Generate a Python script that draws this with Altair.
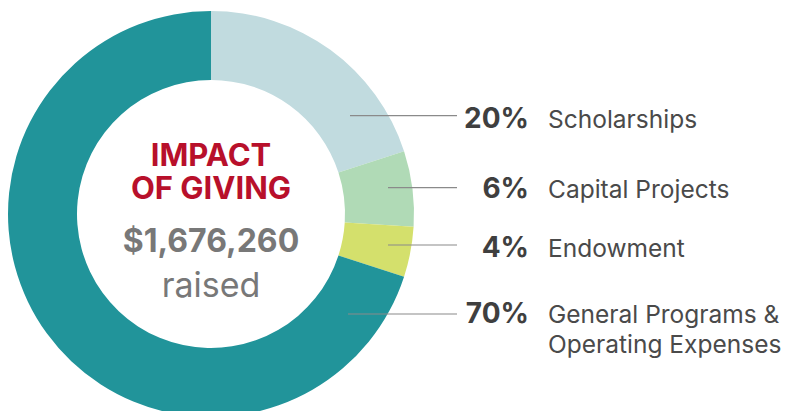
import math
import altair as alt
import pandas as pd

# ---- data ----
categories = ["Scholarships", "Capital Projects", "Endowment", "General Programs & Operating Expenses"]
label_lines = [["Scholarships"], ["Capital Projects"], ["Endowment"], ["General Programs &", "Operating Expenses"]]
percents = [20, 6, 4, 70]
percent_labels = ["20%", "6%", "4%", "70%"]
colors = ["#c1dbdf", "#b0dab6", "#d4e06c", "#21949a"]

title_lines = ["IMPACT", "OF GIVING"]
amount_text = "$1,676,260"
raised_text = "raised"

# ---- layout (pixels) ----
CX, CY = 211, 214
R_OUT, R_IN = 203, 134
line_y = [115.7, 187.7, 245, 314]
line_x1 = [350, 388, 388, 348]
line_x2 = 457
text_base = [127.5, 198.3, 256.7, 323.3]
PCT_X = 529
LAB_X = 548
FONT = "Inter"

df = pd.DataFrame({
    "category": categories,
    "value": percents,
    "order": list(range(len(categories))),
})

lab = pd.DataFrame({
    "category": categories,
    "pct": percent_labels,
    "label": label_lines,
    "ly": line_y,
    "lx1": line_x1,
    "lx2": [line_x2] * 4,
    "ty": text_base,
})

arcs = alt.Chart(df).mark_arc(innerRadius=R_IN, outerRadius=R_OUT).encode(
    theta=alt.Theta("value:Q", stack=True),
    color=alt.Color("category:N", scale=alt.Scale(domain=categories, range=colors), legend=None),
    order=alt.Order("order:Q"),
    x=alt.value(CX),
    y=alt.value(CY),
)

rules = alt.Chart(lab).mark_rule(color="#8a8a8a", strokeWidth=1.2).encode(
    x=alt.X("lx1:Q", scale=None),
    x2="lx2:Q",
    y=alt.Y("ly:Q", scale=None),
)

pct = alt.Chart(lab).mark_text(
    align="right", baseline="alphabetic", font=FONT, fontSize=28, fontWeight="bold", color="#3f3f3f"
).encode(
    x=alt.value(PCT_X),
    y=alt.Y("ty:Q", scale=None),
    text="pct:N",
)

labels = alt.Chart(lab).mark_text(
    align="left", baseline="alphabetic", font=FONT, fontSize=24.5, color="#4a4a4a", lineHeight=30
).encode(
    x=alt.value(LAB_X),
    y=alt.Y("ty:Q", scale=None),
    text="label",
)

title_df = pd.DataFrame({"t": [title_lines], "y": [165.7]})
center = pd.DataFrame({
    "t": [amount_text, raised_text],
    "y": [252.0, 297.0],
    "kind": ["amount", "raised"],
})

title = alt.Chart(title_df).mark_text(
    align="center", baseline="alphabetic", font=FONT, fontSize=31, fontWeight="bold",
    color="#b8102b", lineHeight=33.5
).encode(x=alt.value(CX), y=alt.Y("y:Q", scale=None), text="t")

amount = alt.Chart(center).transform_filter(alt.datum.kind == "amount").mark_text(
    align="center", baseline="alphabetic", font=FONT, fontSize=32, fontWeight="bold", color="#787878"
).encode(x=alt.value(CX), y=alt.Y("y:Q", scale=None), text="t:N")

raised = alt.Chart(center).transform_filter(alt.datum.kind == "raised").mark_text(
    align="center", baseline="alphabetic", font=FONT, fontSize=34, color="#787878"
).encode(x=alt.value(CX), y=alt.Y("y:Q", scale=None), text="t:N")

chart = alt.layer(arcs, rules, pct, labels, title, amount, raised).properties(
    width=791, height=411, padding=0, autosize=alt.AutoSizeParams(type="none"),
    background="white",
).configure_view(stroke=None)

chart.save("out.html", embed_options={"renderer": "svg", "actions": False})
